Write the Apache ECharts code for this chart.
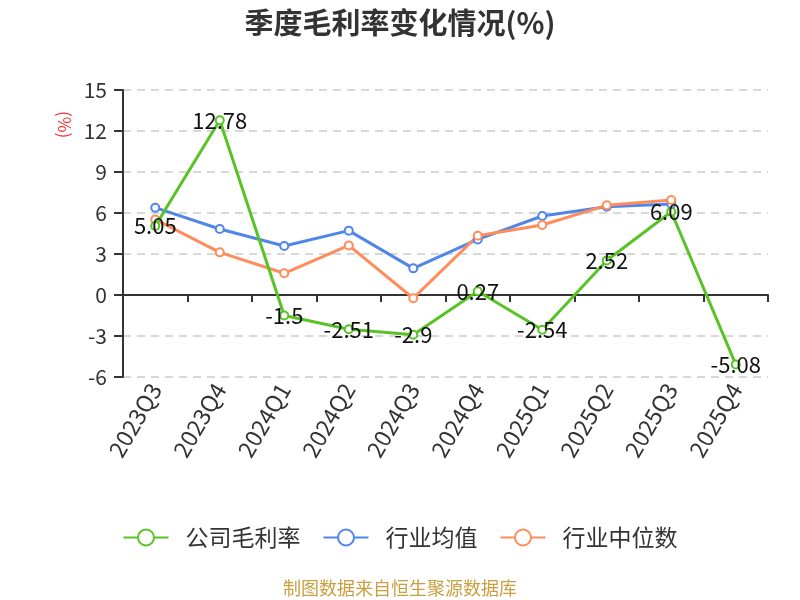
<!DOCTYPE html>
<html>
<head>
<meta charset="utf-8">
<script src="https://cdn.jsdelivr.net/npm/echarts@6/dist/echarts.min.js"></script>
<style>
  html, body { margin: 0; padding: 0; background: #fff; }
  #main { width: 800px; height: 600px; }
</style>
</head>
<body>
<div id="main"></div>
<script>
// 季度
var categories = ['2023Q3', '2023Q4', '2024Q1', '2024Q2', '2024Q3', '2024Q4', '2025Q1', '2025Q2', '2025Q3', '2025Q4'];
// 公司毛利率
var companyRate = [5.05, 12.78, -1.5, -2.51, -2.9, 0.27, -2.54, 2.52, 6.09, -5.08];
// 行业均值
var industryAvg = [6.39, 4.83, 3.58, 4.71, 1.95, 4.07, 5.78, 6.46, 6.66, null];
// 行业中位数
var industryMedian = [5.53, 3.12, 1.59, 3.63, -0.24, 4.34, 5.12, 6.56, 6.95, null];

var chart = echarts.init(document.getElementById('main'));
var fontFamily = '"Noto Sans CJK SC", "Noto Sans", sans-serif';

function lineSeries(name, data, color, withLabel) {
  return {
    name: name,
    type: 'line',
    data: data,
    xAxisIndex: 0,
    symbol: 'emptyCircle',
    symbolSize: 8,
    lineStyle: { width: 3, color: color },
    itemStyle: { color: color },
    label: {
      show: withLabel,
      position: 'inside',
      color: '#111',
      fontSize: 22,
      fontFamily: fontFamily
    }
  };
}

var option = {
  backgroundColor: '#fff',
  title: {
    text: '季度毛利率变化情况(%)',
    left: 'center',
    top: 3,
    textStyle: { fontSize: 29, fontWeight: 'bold', color: '#333', fontFamily: fontFamily }
  },
  color: ['#57c324', '#5086ea', '#ff8c5c'],
  legend: {
    bottom: 46,
    left: 'center',
    itemWidth: 45,
    itemHeight: 20,
    itemGap: 22,
    textStyle: { fontSize: 23, color: '#333', fontFamily: fontFamily, padding: [0, 0, 0, 12] },
    data: ['公司毛利率', '行业均值', '行业中位数']
  },
  grid: { left: 123, right: 32, top: 90, bottom: 223 },
  xAxis: [{
    type: 'category',
    data: categories,
    axisLine: { onZero: true, lineStyle: { color: '#333', width: 2 } },
    axisTick: { show: true, length: 7, lineStyle: { color: '#333', width: 2 } },
    axisLabel: { show: false }
  }, {
    type: 'category',
    data: categories,
    position: 'bottom',
    axisLine: { show: false },
    axisTick: { show: false },
    axisLabel: {
      rotate: 60,
      margin: 8,
      fontSize: 23,
      color: '#333',
      fontFamily: fontFamily
    }
  }],
  yAxis: {
    type: 'value',
    min: -6,
    max: 15,
    interval: 3,
    axisLine: { show: true, lineStyle: { color: '#333', width: 2 } },
    axisTick: { show: true, length: 9, lineStyle: { color: '#333', width: 2 } },
    axisLabel: { fontSize: 21, color: '#333', margin: 16, fontFamily: fontFamily },
    splitLine: { lineStyle: { type: [8, 6], color: '#ccc', width: 1.5 } }
  },
  graphic: [{
    type: 'text',
    x: 73,
    y: 111,
    rotation: -Math.PI / 2,
    style: { text: '(%)', fill: '#f03030', fontSize: 17, fontFamily: fontFamily }
  }, {
    type: 'text',
    left: 'center',
    top: 579,
    style: { text: '制图数据来自恒生聚源数据库', fill: '#c9a040', fontSize: 18, fontFamily: fontFamily }
  }],
  series: [
    lineSeries('公司毛利率', companyRate, '#57c324', true),
    lineSeries('行业均值', industryAvg, '#5086ea', false),
    lineSeries('行业中位数', industryMedian, '#ff8c5c', false)
  ]
};
// 公司毛利率线放在最上层
option.series[0].z = 5;

chart.setOption(option);
window.addEventListener('resize', function () {
  chart.resize();
});
</script>
</body>
</html>
